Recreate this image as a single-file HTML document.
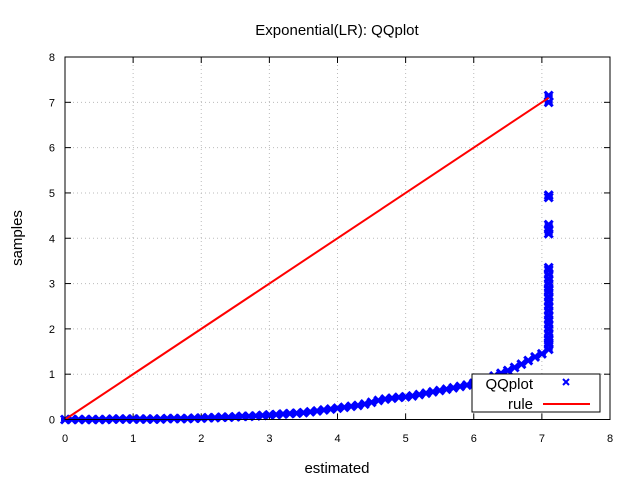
<!DOCTYPE html>
<html><head><meta charset="utf-8"><style>
body{margin:0;background:#fff}
svg{display:block;font-family:"Liberation Sans",sans-serif}
</style></head><body>
<svg id="chart" width="640" height="480">
<text x="337" y="35" text-anchor="middle" font-size="15">Exponential(LR): QQplot</text>
<text x="337" y="473" text-anchor="middle" font-size="15">estimated</text>
<text transform="translate(22,238) rotate(-90)" text-anchor="middle" font-size="15">samples</text>
<g id="grid"></g>
<g id="ticks"></g>
<g id="series"></g>
<rect x="65" y="57" width="545" height="362.5" fill="none" stroke="#000" stroke-width="1"/>
<g>
<rect x="472" y="374" width="128" height="38" fill="#fff" stroke="#000"/>
<text x="533" y="389" text-anchor="end" font-size="15">QQplot</text>
<path d="M563 379l6 6M569 379l-6 6" stroke="#00f" stroke-width="2"/>
<text x="533" y="409" text-anchor="end" font-size="15">rule</text>
<line x1="543" y1="404" x2="590" y2="404" stroke="#f00" stroke-width="2"/>
</g>
</svg>
<script>
const xTicks=[0,1,2,3,4,5,6,7,8];
const yTicks=[0,1,2,3,4,5,6,7,8];
const estimated=[0,0.1,0.2,0.3,0.4,0.5,0.6,0.7,0.8,0.9,1.0,1.1,1.2,1.3,1.4,1.5,1.6,1.7,1.8,1.9,2.0,2.1,2.2,2.3,2.4,2.5,2.6,2.7,2.8,2.9,3.0,3.1,3.2,3.3,3.4,3.5,3.6,3.7,3.8,3.9,4.0,4.1,4.2,4.3,4.4,4.5,4.6,4.7,4.8,4.9,5.0,5.1,5.2,5.3,5.4,5.5,5.6,5.7,5.8,5.9,6.0,6.1,6.2,6.3,6.4,6.5,6.6,6.7,6.8,6.9,7.0,7.1,7.1,7.1,7.1,7.1,7.1,7.1,7.1,7.1,7.1,7.1,7.1,7.1,7.1,7.1,7.1,7.1,7.1,7.1,7.1,7.1,7.1,7.1,7.1,7.1,7.1,7.1,7.1,7.1,7.1];
const samples=[0,0,0,0,0,0,0,0.01,0.01,0.01,0.01,0.01,0.01,0.01,0.01,0.02,0.02,0.02,0.02,0.03,0.03,0.04,0.04,0.05,0.05,0.06,0.07,0.07,0.08,0.09,0.10,0.11,0.12,0.13,0.14,0.15,0.17,0.19,0.21,0.23,0.25,0.27,0.29,0.31,0.34,0.38,0.42,0.45,0.47,0.49,0.50,0.52,0.55,0.58,0.61,0.64,0.67,0.70,0.73,0.76,0.80,0.85,0.90,0.96,1.02,1.08,1.15,1.22,1.30,1.38,1.45,1.55,1.65,1.7,1.75,1.8,1.9,2.0,2.1,2.2,2.3,2.4,2.5,2.6,2.7,2.8,2.85,2.9,3.0,3.1,3.2,3.3,3.35,4.1,4.2,4.3,4.9,4.95,7.0,7.15];
const ruleX=[0,7.1];
const ruleY=[0,7.1];
const NS="http://www.w3.org/2000/svg";
const X0=65,X1=610,Y0=419.5,Y1=57;
const sx=v=>X0+(v-0)/(8-0)*(X1-X0);
const sy=v=>Y0-(v-0)/(8-0)*(Y0-Y1);
function mk(tag,attrs,parent){const e=document.createElementNS(NS,tag);for(const k in attrs)e.setAttribute(k,attrs[k]);parent.appendChild(e);return e;}
const grid=document.getElementById('grid'),ticks=document.getElementById('ticks'),series=document.getElementById('series');
xTicks.forEach(t=>{
  const x=sx(t);
  if(t>0&&t<8){const g=mk('line',{x1:x,y1:Y1,x2:x,y2:Y0,stroke:'#bbb','stroke-dasharray':'1,3'},grid);
  
  }
  const a=mk('line',{x1:x,y1:Y0,x2:x,y2:Y0-6,stroke:'#000'},ticks);
  
  
  const b=mk('line',{x1:x,y1:Y1,x2:x,y2:Y1+6,stroke:'#000'},ticks);
  
  
  const l=mk('text',{x:x,y:442,'text-anchor':'middle','font-size':11},ticks);
  l.textContent=t;
  
  
});
yTicks.forEach(t=>{
  const y=sy(t);
  if(t>0&&t<8){const g=mk('line',{x1:X0,y1:y,x2:X1,y2:y,stroke:'#bbb','stroke-dasharray':'1,3'},grid);
  
  }
  const a=mk('line',{x1:X0,y1:y,x2:X0+6,y2:y,stroke:'#000'},ticks);
  
  
  const b=mk('line',{x1:X1,y1:y,x2:X1-6,y2:y,stroke:'#000'},ticks);
  
  
  const l=mk('text',{x:55,y:y+4,'text-anchor':'end','font-size':11},ticks);
  l.textContent=t;
  
  
});
estimated.forEach((e,i)=>{
  const x=sx(e),y=sy(samples[i]);
  const p=mk('path',{d:`M${x-4} ${y-4}l8 8M${x+4} ${y-4}l-8 8M${x-4} ${y}h8`,stroke:'#00f','stroke-width':3},series);
  
  
});
const r=mk('line',{x1:sx(ruleX[0]),y1:sy(ruleY[0]),x2:sx(ruleX[1]),y2:sy(ruleY[1]),stroke:'#f00','stroke-width':2},series);


</script>
</body></html>
